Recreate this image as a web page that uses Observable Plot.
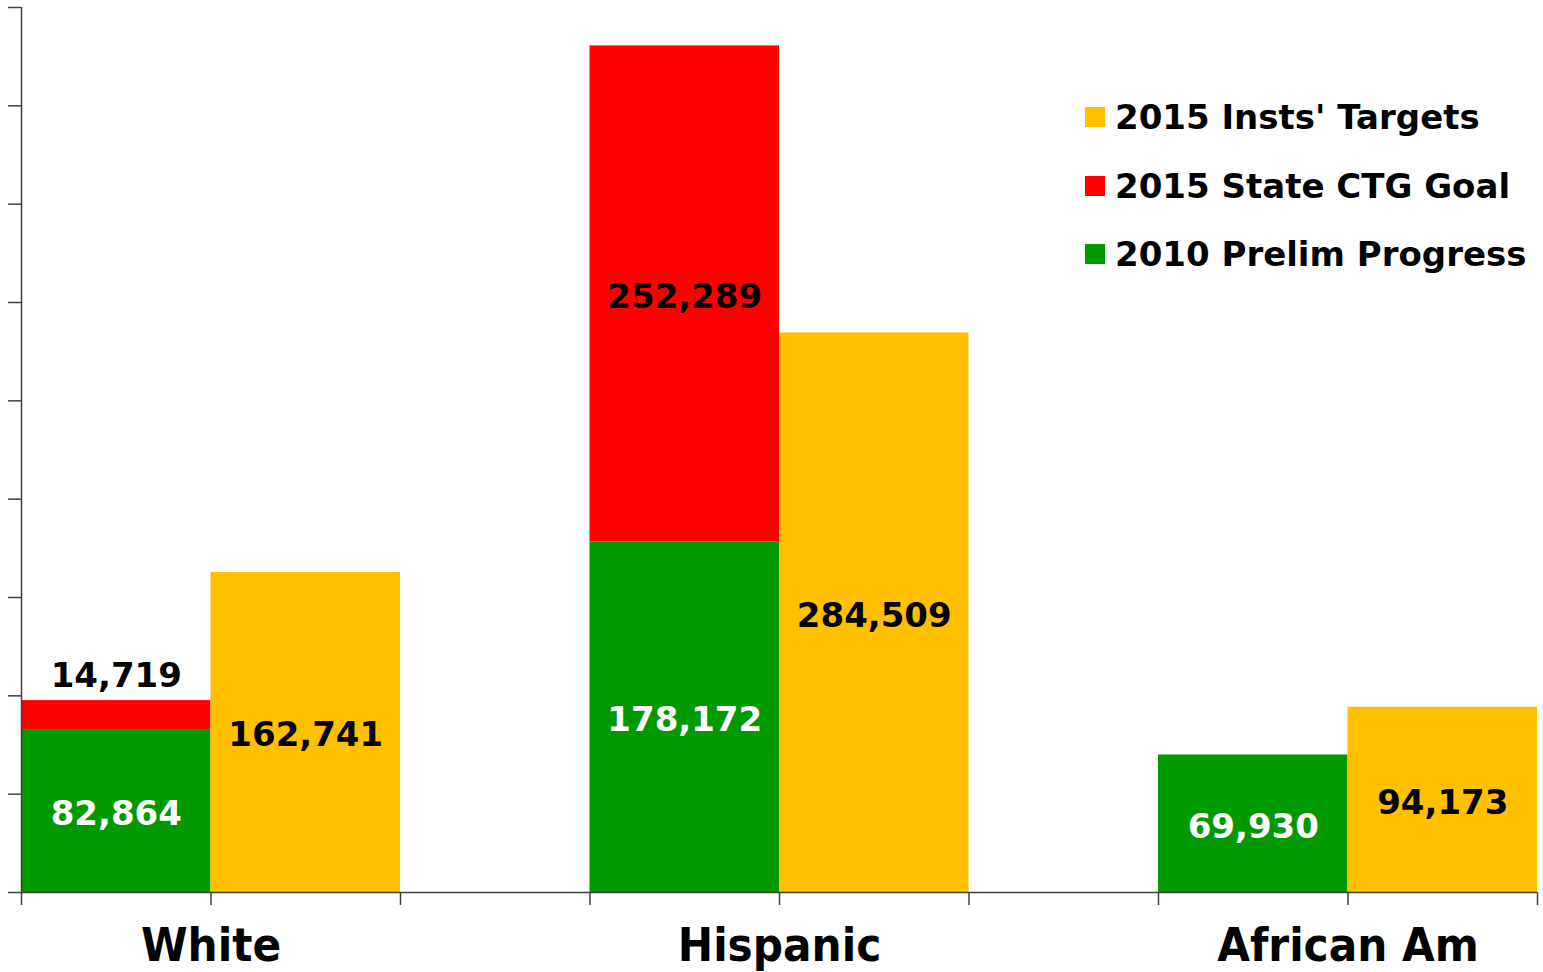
<!DOCTYPE html>
<html>
<head>
<meta charset="utf-8">
<script src="https://cdn.jsdelivr.net/npm/d3@7"></script>
<script src="https://cdn.jsdelivr.net/npm/@observablehq/plot@0.6"></script>
<style>
  html, body { margin: 0; padding: 0; background: #fff; }
  #wrap { position: relative; width: 1543px; height: 972px; }
  #legend { position: absolute; left: 1085px; top: 83px; font-family: "DejaVu Sans", Verdana, sans-serif; font-weight: bold; font-size: 34px; color: #000; }
  #legend .row { display: flex; align-items: center; height: 68.5px; white-space: nowrap; }
  #legend .sw { width: 20px; height: 20px; margin-right: 10px; flex: none; }
</style>
</head>
<body>
<div id="wrap"><div id="chart"></div><div id="legend"></div></div>
<script>
const categories = ["White", "Hispanic", "African Am"];
const progress2010 = [82864, 178172, 69930];
const stateGoal2015 = [14719, 252289, 0];
const instTargets2015 = [162741, 284509, 94173];
const seriesNames = ["2010 Prelim Progress", "2015 State CTG Goal", "2015 Insts' Targets"];
const seriesColors = ["#009900", "#FF0000", "#FFC000"];
const yTicks = d3.range(0, 450001, 50000);

const fmt = d3.format(",");
const rows = [];
categories.forEach((c, i) => {
  const slot = i * 3;
  rows.push({cat: c, series: seriesNames[0], x1: slot, x2: slot + 1, y1: 0, y2: progress2010[i], v: progress2010[i]});
  if (stateGoal2015[i] > 0)
    rows.push({cat: c, series: seriesNames[1], x1: slot, x2: slot + 1, y1: progress2010[i], y2: progress2010[i] + stateGoal2015[i], v: stateGoal2015[i]});
  rows.push({cat: c, series: seriesNames[2], x1: slot + 1, x2: slot + 2, y1: 0, y2: instTargets2015[i], v: instTargets2015[i]});
});
const inside = rows.filter(d => d.v >= 30000);
const above = rows.filter(d => d.v < 30000);

const font = "'DejaVu Sans', Verdana, sans-serif";
const chart = Plot.plot({
  width: 1543,
  height: 972,
  marginLeft: 21,
  marginRight: 6,
  marginTop: 7,
  marginBottom: 80,
  style: {fontFamily: font, background: "#fff"},
  x: {domain: [0, 8]},
  y: {domain: [0, 450000]},
  color: {domain: seriesNames, range: seriesColors},
  marks: [
    Plot.rect(rows, {x1: "x1", x2: "x2", y1: "y1", y2: "y2", fill: "series"}),
    Plot.text(inside, {
      x: d => (d.x1 + d.x2) / 2, y: d => (d.y1 + d.y2) / 2, dy: 3,
      text: d => fmt(d.v), fontSize: 34, fontWeight: "bold",
      fill: d => d.series === seriesNames[0] ? "#fff" : "#000"
    }),
    Plot.text(above, {
      x: d => (d.x1 + d.x2) / 2, y: "y2", dy: -24,
      text: d => fmt(d.v), fontSize: 34, fontWeight: "bold", fill: "#000"
    }),
    Plot.axisY({ticks: yTicks, tickFormat: () => "", tickSize: 13, stroke: "#404040", strokeWidth: 1.5, strokeOpacity: 1}),
    Plot.axisX({ticks: d3.range(0, 9), tickFormat: () => "", tickSize: 13, stroke: "#404040", strokeWidth: 1.5, strokeOpacity: 1}),
    Plot.ruleX([0], {stroke: "#404040", strokeWidth: 1.5}),
    Plot.ruleY([0], {stroke: "#404040", strokeWidth: 1.5}),
    Plot.text(categories, {
      x: (d, i) => i * 3 + 1, y: () => 0, dy: 53, text: d => d,
      fontSize: 47, fontWeight: "bold", fill: "#000",
      fontFamily: "'DejaVu Sans Condensed', 'DejaVu Sans', sans-serif"
    })
  ]
});
document.getElementById("chart").appendChild(chart);

const legendOrder = [2, 1, 0];
const legend = document.getElementById("legend");
legendOrder.forEach(k => {
  const r = document.createElement("div");
  r.className = "row";
  r.innerHTML = `<span class="sw" style="background:${seriesColors[k]}"></span><span>${seriesNames[k]}</span>`;
  legend.appendChild(r);
});
</script>
</body>
</html>
